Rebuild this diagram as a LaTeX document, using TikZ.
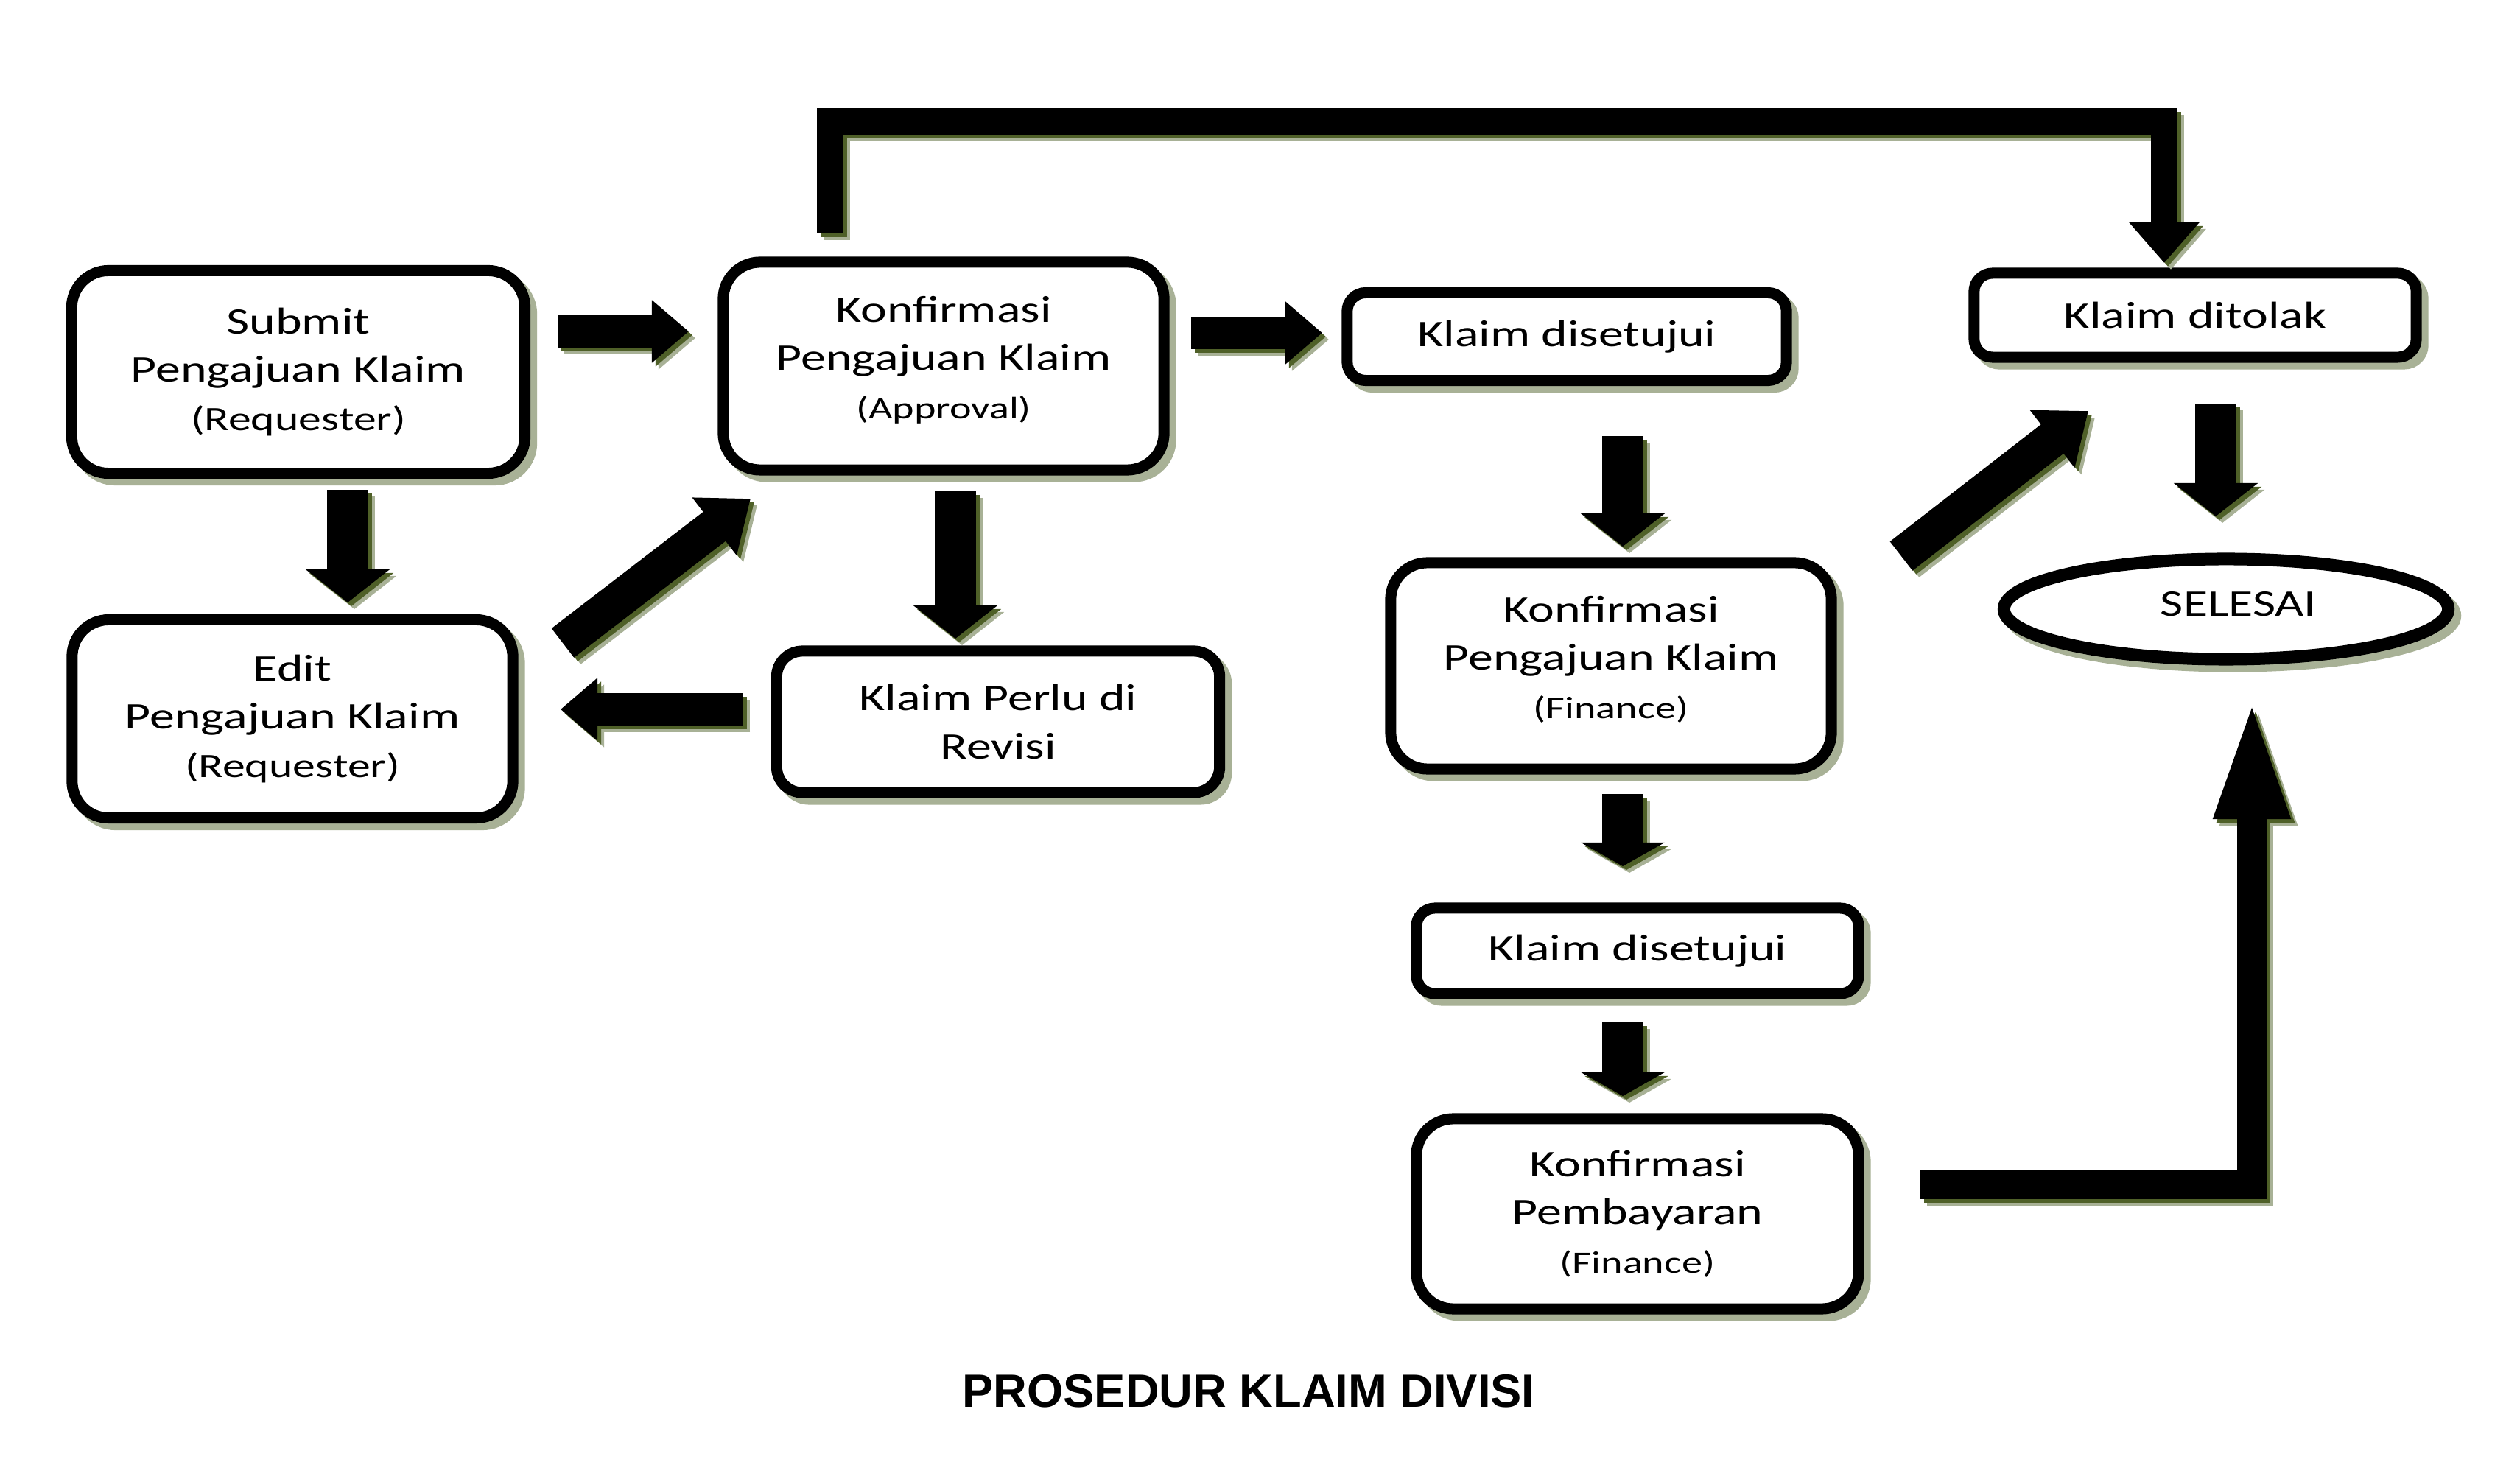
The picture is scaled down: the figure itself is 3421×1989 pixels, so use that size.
\documentclass[tikz,border=0pt]{standalone}
\usepackage{fontspec}
\setmainfont{Carlito}[FakeStretch=1.33]
\newfontfamily\titlefont{Liberation Sans}
\usetikzlibrary{arrows.meta,shapes.geometric,shadows}
\definecolor{sage}{HTML}{A8B196}
\definecolor{olivesh}{HTML}{4F6028}
\newcommand\mainsz{\fontsize{14.5}{18.6}\selectfont}
\newcommand\smallsz{\fontsize{12}{15}\selectfont}
\newcommand\reqsz{\fontsize{13.2}{15}\selectfont}
\newcommand\shadowed[2]{%
  \draw[#1, sage, transform canvas={xshift=0.09cm,yshift=-0.09cm}] #2;
  \draw[#1, olivesh, transform canvas={xshift=0.05cm,yshift=-0.05cm}] #2;
  \draw[#1, black] #2;}
\tikzset{
  boxbase/.style={draw=black, line width=0.15cm, fill=white, align=center,
    inner sep=0pt, font=\mainsz,
    drop shadow={shadow xshift=0.09cm, shadow yshift=-0.09cm, fill=sage, draw=sage, opacity=1}},
  bigbox/.style={boxbase, rounded corners=0.5cm},
  smallbox/.style={boxbase, rounded corners=0.25cm},
  fatH/.style={line width=0.44cm, -{Triangle[length=0.5cm,width=0.82cm]}},
  fatV/.style={line width=0.56cm, -{Triangle[length=0.45cm,width=1.12cm]}},
  fatVs/.style={line width=0.56cm, -{Triangle[length=0.32cm,width=1.12cm]}},
  fatD/.style={line width=0.5cm, -{Triangle[length=0.62cm,width=0.95cm]}},
  bracketline/.style={line width=0.36cm, line join=miter, -{Triangle[length=0.55cm,width=0.92cm]}},
  lline/.style={line width=0.40cm, line join=miter, -{Triangle[length=1.66cm,width=0.92cm]}}
}
\begin{document}
\begin{tikzpicture}[x=0.01cm, y=-0.01cm]
\useasboundingbox[fill=white] (0,0) rectangle (3421,1989);

% boxes
\node[bigbox, minimum width=6.15cm, minimum height=2.75cm] (submit) at (405,505)
  {Submit\\Pengajuan Klaim\\{\reqsz (Requester)}};
\node[bigbox, minimum width=5.98cm, minimum height=2.82cm] (approval) at (1281,497)
  {Konfirmasi\\Pengajuan Klaim\\{\smallsz (Approval)}\\[-0.42cm]};
\node[smallbox, minimum width=5.96cm, minimum height=1.19cm] (setuju1) at (2127,457)
  {Klaim disetujui};
\node[smallbox, minimum width=6.0cm, minimum height=1.14cm] (tolak) at (2980,428)
  {Klaim ditolak};
\node[ellipse, draw=black, line width=0.17cm, fill=white, inner sep=0pt, font=\mainsz,
  minimum width=6.03cm, minimum height=1.36cm,
  drop shadow={shadow xshift=0.09cm, shadow yshift=-0.09cm, fill=sage, draw=sage, opacity=1}]
  (selesai) at (3022,827) {\hspace*{0.34cm}\raisebox{0.15cm}{SELESAI}};
\node[bigbox, minimum width=5.98cm, minimum height=2.69cm] (edit) at (397,976)
  {Edit\\Pengajuan Klaim\\{\reqsz (Requester)}};
\node[smallbox, rounded corners=0.35cm, minimum width=6.01cm, minimum height=1.92cm] (revisi) at (1355,980)
  {Klaim Perlu di\\Revisi};
\node[bigbox, minimum width=5.98cm, minimum height=2.8cm] (finance) at (2187,904)
  {Konfirmasi\\Pengajuan Klaim\\{\smallsz (Finance)}\\[-0.42cm]};
\node[smallbox, minimum width=6.0cm, minimum height=1.16cm] (setuju2) at (2223,1291)
  {Klaim disetujui};
\node[bigbox, minimum width=6.0cm, minimum height=2.58cm] (bayar) at (2223,1648)
  {Konfirmasi\\Pembayaran\\{\smallsz (Finance)}};

\node[font=\titlefont\bfseries\fontsize{18}{22}\selectfont] (title) at (1695,1889)
  {PROSEDUR KLAIM DIVISI};

% arrow end points
\coordinate (a1s) at (757,450);  \coordinate (a1e) at (935,450);
\coordinate (a2s) at (1617,452); \coordinate (a2e) at (1795,452);
\coordinate (a3s) at (472,665);  \coordinate (a3e) at (472,818);
\coordinate (a4s) at (1297,667); \coordinate (a4e) at (1297,867);
\coordinate (a5s) at (764,873);  \coordinate (a5e) at (1019,677);
\coordinate (a6s) at (1009,963); \coordinate (a6e) at (761,963);
\coordinate (a7s) at (2203,592); \coordinate (a7e) at (2203,742);
\coordinate (a8s) at (2581,755); \coordinate (a8e) at (2835,558);
\coordinate (a9s) at (3008,548); \coordinate (a9e) at (3008,701);
\coordinate (a10s) at (2203,1078); \coordinate (a10e) at (2203,1176);
\coordinate (a11s) at (2203,1388); \coordinate (a11e) at (2203,1488);
\coordinate (bs) at (1127,317); \coordinate (b1) at (1127,165);
\coordinate (b2) at (2938,165); \coordinate (be) at (2938,357);
\coordinate (ls) at (2607,1608); \coordinate (l1) at (3057,1608);
\coordinate (le) at (3057,946);

% arrows
\shadowed{fatH}{(a1s) -- (a1e)}
\shadowed{fatH}{(a2s) -- (a2e)}
\shadowed{fatV}{(a3s) -- (a3e)}
\shadowed{fatV}{(a4s) -- (a4e)}
\shadowed{fatD}{(a5s) -- (a5e)}
\shadowed{fatH}{(a6s) -- (a6e)}
\shadowed{fatV}{(a7s) -- (a7e)}
\shadowed{fatD}{(a8s) -- (a8e)}
\shadowed{fatV}{(a9s) -- (a9e)}
\shadowed{fatVs}{(a10s) -- (a10e)}
\shadowed{fatVs}{(a11s) -- (a11e)}
\shadowed{bracketline}{(bs) -- (b1) -- (b2) -- (be)}
\shadowed{lline}{(ls) -- (l1) -- (le)}
\end{tikzpicture}
\end{document}
